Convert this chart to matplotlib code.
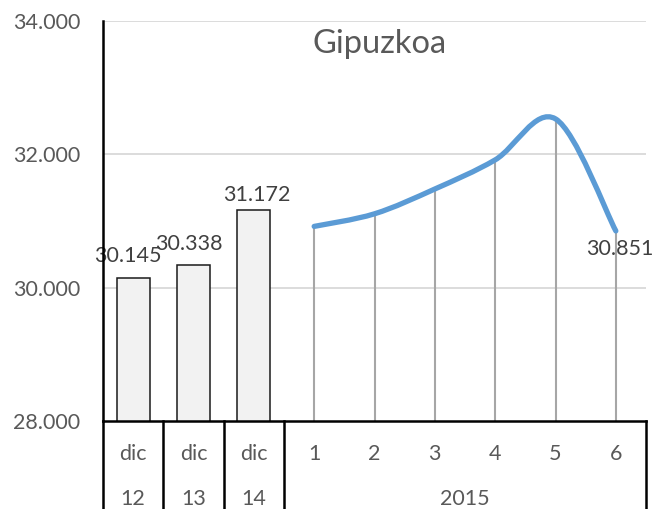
import numpy as np
import matplotlib
matplotlib.use("Agg")
import matplotlib.pyplot as plt
from matplotlib.path import Path
from matplotlib.patches import PathPatch

plt.rcParams['font.family'] = ['Lato', 'DejaVu Sans']

# ---- data ----
bar_top_labels = ["dic", "dic", "dic"]
bar_bottom_labels = ["12", "13", "14"]
bar_values = [30145, 30338, 31172]
month_labels = ["1", "2", "3", "4", "5", "6"]
month_values = [30919, 31108, 31480, 31917, 32532, 30851]
year_label = "2015"
title = "Gipuzkoa"
y_ticks = [28000, 30000, 32000, 34000]
y_min, y_max = 28000, 34000

def fmt(v):
    return f"{v:,.0f}".replace(",", ".")

W, H, DPI = 667, 509, 100
FS = 15.5
fig = plt.figure(figsize=(W / DPI, H / DPI), dpi=DPI)
ax = fig.add_axes([103 / W, (H - 421) / H, (646 - 103) / W, (421 - 21) / H])

n_bars = len(bar_values)
n_all = n_bars + len(month_values)
xb = np.arange(n_bars)
xm = np.arange(n_bars, n_all)

ax.set_xlim(-0.5, n_all - 0.5)
ax.set_ylim(y_min, y_max)

# gridlines
for t in y_ticks[1:]:
    ax.axhline(t, color="#d9d9d9", lw=1.3, zorder=0)

# bars
ax.bar(xb, bar_values, width=0.55, color="#f2f2f2", edgecolor="#1a1a1a", linewidth=1.1, zorder=2)

# drop lines
ax.vlines(xm, y_min, month_values, color="#a6a6a6", lw=1.5, zorder=2)

# smoothed line (Excel-like Bezier smoothing)
P = np.column_stack([xm.astype(float), np.array(month_values, float)])
verts = [P[0]]
codes = [Path.MOVETO]
nP = len(P)
for i in range(nP - 1):
    p0 = P[i - 1] if i > 0 else P[i]
    p1 = P[i]
    p2 = P[i + 1]
    p3 = P[i + 2] if i + 2 < nP else P[i + 1]
    c1 = p1 + (p2 - p0) / 6.0
    c2 = p2 - (p3 - p1) / 6.0
    verts += [c1, c2, p2]
    codes += [Path.CURVE4] * 3
path = Path(verts, codes)
ax.add_patch(PathPatch(path, facecolor="none", edgecolor="#5b9bd5", lw=3.8,
                       capstyle="round", joinstyle="round", zorder=3))

# data labels
label_color = "#404040"
offs = [(-5, 16), (-5, 15), (3, 9)]
for x, v, (dx, dy) in zip(xb, bar_values, offs):
    ax.annotate(fmt(v), (x, v), xytext=(dx, dy), textcoords="offset pixels",
                ha="center", va="baseline", fontsize=FS, color=label_color, zorder=4)
ax.annotate(fmt(month_values[-1]), (xm[-1], month_values[-1]), xytext=(4, -24),
            textcoords="offset pixels", ha="center", va="baseline",
            fontsize=FS, color=label_color, zorder=4)

# y axis
ax.set_yticks(y_ticks)
ax.set_yticklabels([fmt(t) for t in y_ticks], fontsize=FS, color="#595959")
ax.tick_params(axis="y", length=0, pad=16.5)
ax.set_xticks([])
for s in ["top", "right", "bottom", "left"]:
    ax.spines[s].set_visible(False)

# axis lines
ax.plot([-0.5, -0.5], [0, 1], transform=ax.get_xaxis_transform(), color="black", lw=1.8,
        clip_on=False, zorder=5)
ax.plot([-0.5, n_all - 0.5], [0, 0], transform=ax.get_xaxis_transform(), color="black",
        lw=1.8, clip_on=False, zorder=5)

# category dividers down to the bottom edge
bottom_frac = -(H - 421) / 400.0 - 0.01
for b in [-0.5, 0.5, 1.5, 2.5, n_all - 0.5]:
    ax.plot([b, b], [0, bottom_frac], transform=ax.get_xaxis_transform(), color="black",
            lw=1.8, clip_on=False, zorder=5)

cat_color = "#595959"
tr = ax.get_xaxis_transform()
for x, t, b in zip(xb, bar_top_labels, bar_bottom_labels):
    ax.annotate(t, (x, 0), xycoords=tr, xytext=(0, -33), textcoords="offset pixels",
                ha="center", va="center", fontsize=FS, color=cat_color, annotation_clip=False)
    ax.annotate(b, (x, 0), xycoords=tr, xytext=(0, -78), textcoords="offset pixels",
                ha="center", va="center", fontsize=FS, color=cat_color, annotation_clip=False)
for x, t in zip(xm, month_labels):
    ax.annotate(t, (x, 0), xycoords=tr, xytext=(0, -33), textcoords="offset pixels",
                ha="center", va="center", fontsize=FS, color=cat_color, annotation_clip=False)
ax.annotate(year_label, ((xm[0] + xm[-1]) / 2, 0), xycoords=tr, xytext=(0, -78),
            textcoords="offset pixels", ha="center", va="center", fontsize=FS,
            color=cat_color, annotation_clip=False)

# title
fig.text(380 / W, 1 - 53 / H, title, ha="center", va="baseline", fontsize=23.5, color="#595959")

fig.savefig("out.png", dpi=DPI)
